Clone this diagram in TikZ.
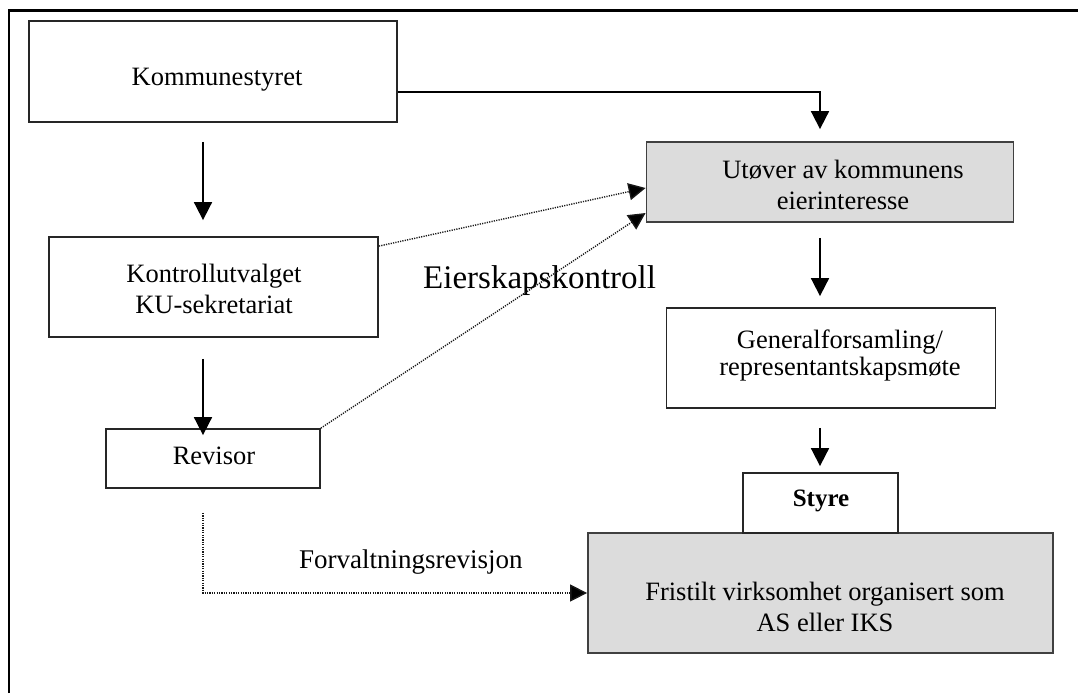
\documentclass[tikz,border=0pt]{standalone}
\usepackage{fontspec}
\setmainfont{Liberation Serif}
\usetikzlibrary{arrows.meta}
\definecolor{boxgray}{HTML}{DCDCDC}
\tikzset{
  boxw/.style={draw=black!85, line width=1.8pt, fill=white, rectangle, inner sep=0pt},
  boxg/.style={draw=black!75, line width=1.8pt, fill=boxgray, rectangle, inner sep=0pt},
  txt/.style={align=center, inner sep=0pt, font=\fontsize{26.5}{31}\selectfont},
  arr/.style={line width=1.8pt, -{Triangle[width=18pt,length=18pt]}},
  dotarr/.style={line width=1.4pt, dash pattern=on 1.2pt off 1.2pt, -{Triangle[width=17pt,length=17pt,fill=black]}, draw=black!90},
  frame/.style={line width=2.5pt, black}
}
\begin{document}
\begin{tikzpicture}[x=1pt, y=-1pt]
\useasboundingbox (0,0) rectangle (1078,693);
% outer frame (cut at right and bottom)
\draw[frame] (9,693) -- (9,10.5) -- (1078,10.5);

\coordinate (colL) at (203,0);
\coordinate (colR) at (820,0);

% boxes
\node[boxw, minimum width=368pt, minimum height=101pt] (k) at (213,71.5) {};
\node[txt] (kt) at (217,80) {Kommunestyret};

\node[boxw, minimum width=329pt, minimum height=100pt] (ku) at (213.5,287) {};
\node[txt] (kut) at (214,288.5) {Kontrollutvalget\\KU-sekretariat};

\node[boxw, minimum width=214pt, minimum height=59pt] (rev) at (213,458.5) {};
\node[txt] (revt) at (214,456) {Revisor};

\node[boxg, minimum width=367pt, minimum height=80pt] (u) at (830,182) {};
\node[txt] (ut) at (843,185) {Utøver av kommunens\\eierinteresse};

\node[boxw, minimum width=329pt, minimum height=100pt] (gf) at (831,358) {};
\node[txt, font=\fontsize{26.5}{27}\selectfont] (gft) at (840,355) {Generalforsamling/\\representantskapsmøte};

\node[boxg, minimum width=465pt, minimum height=120pt] (f) at (820.5,593) {};
\node[txt] (ft) at (825,606.5) {Fristilt virksomhet organisert som\\AS eller IKS};

\node[boxw, minimum width=155pt, minimum height=60pt] (st) at (820.5,503) {};
\node[txt, font=\fontsize{25}{30}\selectfont\bfseries] (stt) at (821,501) {Styre};

% labels
\node[txt, anchor=base west, font=\fontsize{33}{36}\selectfont] (lab1) at (423,288) {Eierskapskontroll};
\node[txt, anchor=base west, font=\fontsize{27}{31}\selectfont] (lab2) at (299,568) {Forvaltningsrevisjon};

% solid arrows
\draw[arr, shorten <=19pt, shorten >=16pt] (k.south -| colL) -- (ku.north -| colL);
\draw[arr, shorten <=21pt, shorten >=-7pt] (ku.south -| colL) -- (rev.north -| colL);
\coordinate (kout) at ([yshift=-20.5pt]k.east);
\draw[arr, shorten >=12pt] (kout) -- (kout -| colR) -- (u.north -| colR);
\draw[arr, shorten <=15pt, shorten >=11pt] (u.south -| colR) -- (gf.north -| colR);
\draw[arr, shorten <=19pt, shorten >=6pt] (gf.south -| colR) -- (st.north -| colR);

% dotted arrows
\draw[dotarr] ([yshift=-10pt]ku.north east) -- ([yshift=-6pt]u.west);
\draw[dotarr] (rev.north east) -- ([yshift=-31pt]u.west);
\coordinate (rdown) at (rev.south -| colL);
\draw[dotarr, shorten <=24pt] (rdown) -- (rdown |- f.west) -- (f.west);
\end{tikzpicture}
\end{document}
